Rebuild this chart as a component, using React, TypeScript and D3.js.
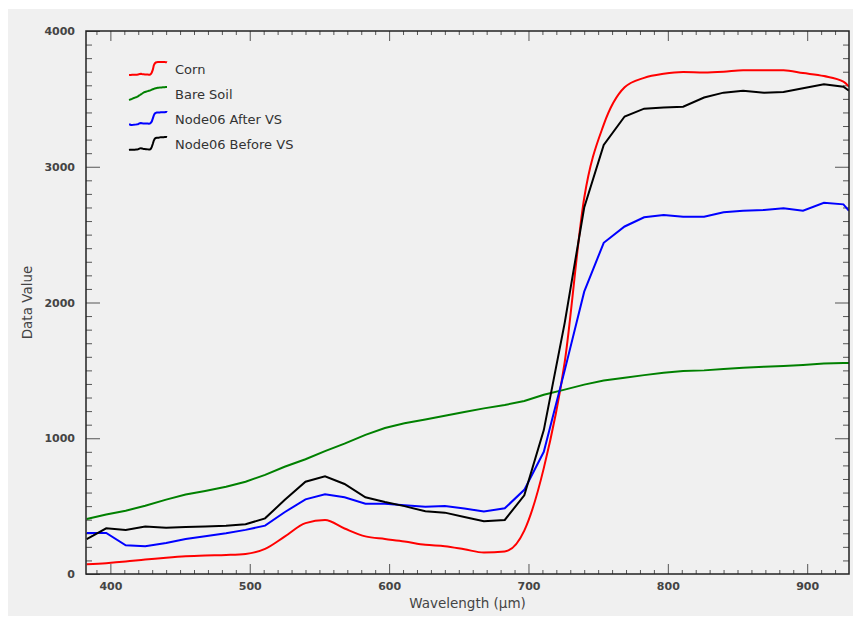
import React, { useEffect, useRef } from "react";
import * as d3 from "d3";

// band centres (nm) and the four spectra
const wavelengths = [
  383, 397, 411, 425, 440, 454, 468, 483, 497, 511, 525, 540, 554, 568, 583,
  597, 611, 626, 640, 654, 668, 683, 697, 711, 726, 740, 754, 769, 783, 797,
  811, 826, 840, 854, 869, 883, 897, 912, 926, 930,
];

const corn = [
  71, 80, 92, 107, 120, 130, 136, 140, 148, 185, 275, 375, 397, 335, 277,
  258, 240, 215, 205, 182, 158, 166, 320, 780, 1560, 2770, 3310, 3585, 3655, 3685,
  3698, 3695, 3700, 3710, 3710, 3710, 3690, 3668, 3627, 3590,
];

const bareSoil = [
  405, 438, 466, 503, 548, 585, 612, 643, 680, 730, 790, 845, 905, 960, 1025,
  1075, 1110, 1138, 1165, 1193, 1220, 1245, 1275, 1320, 1358, 1395, 1425, 1445, 1465, 1483,
  1495, 1500, 1510, 1520, 1527, 1533, 1540, 1550, 1554, 1555,
];

const afterVS = [
  302, 302, 211, 205, 228, 258, 278, 300, 325, 356, 455, 550, 587, 565, 518,
  518, 506, 496, 501, 483, 460, 484, 620, 900, 1500, 2080, 2440, 2560, 2628, 2645,
  2632, 2632, 2665, 2676, 2682, 2694, 2676, 2735, 2723, 2676,
];

const beforeVS = [
  257, 337, 324, 349, 341, 346, 350, 356, 366, 410, 545, 680, 720, 663, 565,
  530, 500, 462, 452, 420, 388, 398, 580, 1060, 1850, 2700, 3160, 3370, 3428, 3437,
  3442, 3510, 3546, 3560, 3546, 3550, 3578, 3608, 3590, 3560,
];

const seriesNames = ["Corn", "Bare Soil", "Node06 After VS", "Node06 Before VS"];
const seriesColors = ["#ff0000", "#008000", "#0000ff", "#000000"];
const seriesValues = [corn, bareSoil, afterVS, beforeVS];

const xMajor = [400, 500, 600, 700, 800, 900];
const yMajor = [0, 1000, 2000, 3000, 4000];

const W = 853;
const H = 618;
const plot = { left: 86, top: 31, right: 849, bottom: 574 };

export default function App() {
  const ref = useRef<SVGSVGElement>(null);

  useEffect(() => {
    const svg = d3.select(ref.current);
    svg.selectAll("*").remove();

    svg
      .append("rect")
      .attr("x", 8)
      .attr("y", 9)
      .attr("width", W - 8)
      .attr("height", 607)
      .attr("fill", "#f0f0f0");

    const x = d3.scaleLinear().domain([382.5, 930]).range([plot.left, plot.right]);
    const y = d3.scaleLinear().domain([0, 4000]).range([plot.bottom, plot.top]);

    const font = "'DejaVu Sans', Verdana, sans-serif";

    // axes: major + minor ticks, all pointing inward
    const xMinor = d3.range(390, 930, 10).filter((v) => v % 100 !== 0);
    const yMinor = d3.range(100, 4000, 100).filter((v) => v % 1000 !== 0);

    const styleAxis = (g: any) => {
      g.select(".domain").remove();
      g.selectAll(".tick line").attr("stroke", "#555");
      g.selectAll(".tick text")
        .attr("fill", "#444")
        .style("font-family", font)
        .style("font-size", "11px")
        .style("font-weight", "bold");
    };

    svg
      .append("g")
      .attr("transform", `translate(0,${plot.bottom})`)
      .call(d3.axisBottom(x).tickValues(xMajor).tickSize(-10).tickPadding(8).tickFormat(d3.format("d")))
      .call(styleAxis);
    svg
      .append("g")
      .attr("transform", `translate(0,${plot.bottom})`)
      .call(d3.axisBottom(x).tickValues(xMinor).tickSize(-4).tickFormat(() => ""))
      .call(styleAxis);
    svg
      .append("g")
      .attr("transform", `translate(0,${plot.top})`)
      .call(d3.axisTop(x).tickValues(xMajor).tickSize(-10).tickFormat(() => ""))
      .call(styleAxis);
    svg
      .append("g")
      .attr("transform", `translate(0,${plot.top})`)
      .call(d3.axisTop(x).tickValues(xMinor).tickSize(-4).tickFormat(() => ""))
      .call(styleAxis);

    svg
      .append("g")
      .attr("transform", `translate(${plot.left},0)`)
      .call(d3.axisLeft(y).tickValues(yMajor).tickSize(-14).tickPadding(11).tickFormat(d3.format("d")))
      .call(styleAxis);
    svg
      .append("g")
      .attr("transform", `translate(${plot.left},0)`)
      .call(d3.axisLeft(y).tickValues(yMinor).tickSize(-6).tickFormat(() => ""))
      .call(styleAxis);
    svg
      .append("g")
      .attr("transform", `translate(${plot.right},0)`)
      .call(d3.axisRight(y).tickValues(yMajor.slice(1, -1)).tickSize(-14).tickFormat(() => ""))
      .call(styleAxis);
    svg
      .append("g")
      .attr("transform", `translate(${plot.right},0)`)
      .call(d3.axisRight(y).tickValues(yMinor).tickSize(-6).tickFormat(() => ""))
      .call(styleAxis);

    // clip for the lines
    svg
      .append("clipPath")
      .attr("id", "plot-clip")
      .append("rect")
      .attr("x", plot.left)
      .attr("y", plot.top)
      .attr("width", plot.right - plot.left)
      .attr("height", plot.bottom - plot.top);

    const lines = svg.append("g").attr("clip-path", "url(#plot-clip)");

    seriesValues.forEach((vals, i) => {
      const line = d3
        .line<number>()
        .x((_, j) => x(wavelengths[j]))
        .y((d) => y(d))
        .curve(i === 0 ? d3.curveMonotoneX : d3.curveLinear);
      lines
        .append("path")
        .datum(vals)
        .attr("d", line)
        .attr("fill", "none")
        .attr("stroke", seriesColors[i])
        .attr("stroke-width", 2);
    });

    // frame
    svg
      .append("rect")
      .attr("x", plot.left)
      .attr("y", plot.top)
      .attr("width", plot.right - plot.left)
      .attr("height", plot.bottom - plot.top)
      .attr("fill", "none")
      .attr("stroke", "#222")
      .attr("stroke-width", 1.5);

    // axis titles
    svg
      .append("text")
      .attr("x", (plot.left + plot.right) / 2)
      .attr("y", 608)
      .attr("text-anchor", "middle")
      .attr("fill", "#444")
      .style("font-family", font)
      .style("font-size", "13.5px")
      .text("Wavelength (µm)");

    svg
      .append("text")
      .attr("transform", `translate(32,${(plot.top + plot.bottom) / 2}) rotate(-90)`)
      .attr("text-anchor", "middle")
      .attr("fill", "#444")
      .style("font-family", font)
      .style("font-size", "13.5px")
      .text("Data Value");

    // legend: each entry shows a miniature of its own spectrum
    const lx = d3.scaleLinear().domain([382.5, 930]).range([129, 167]);
    seriesNames.forEach((name, i) => {
      const cy = 69 + i * 25;
      const vals = seriesValues[i];
      const ly = d3
        .scaleLinear()
        .domain(d3.extent(vals) as [number, number])
        .range([cy + 6, cy - 7]);
      const mini = d3
        .line<number>()
        .x((_, j) => lx(wavelengths[j]))
        .y((d) => ly(d));
      svg
        .append("path")
        .datum(vals)
        .attr("d", mini)
        .attr("fill", "none")
        .attr("stroke", seriesColors[i])
        .attr("stroke-width", 2);
      svg
        .append("text")
        .attr("x", 175)
        .attr("y", cy + 5)
        .attr("fill", "#333")
        .style("font-family", font)
        .style("font-size", "13px")
        .text(name);
    });
  }, []);

  return (
    <svg
      ref={ref}
      width={W}
      height={H}
      style={{ position: "absolute", left: 0, top: 0, background: "#fff" }}
    />
  );
}
